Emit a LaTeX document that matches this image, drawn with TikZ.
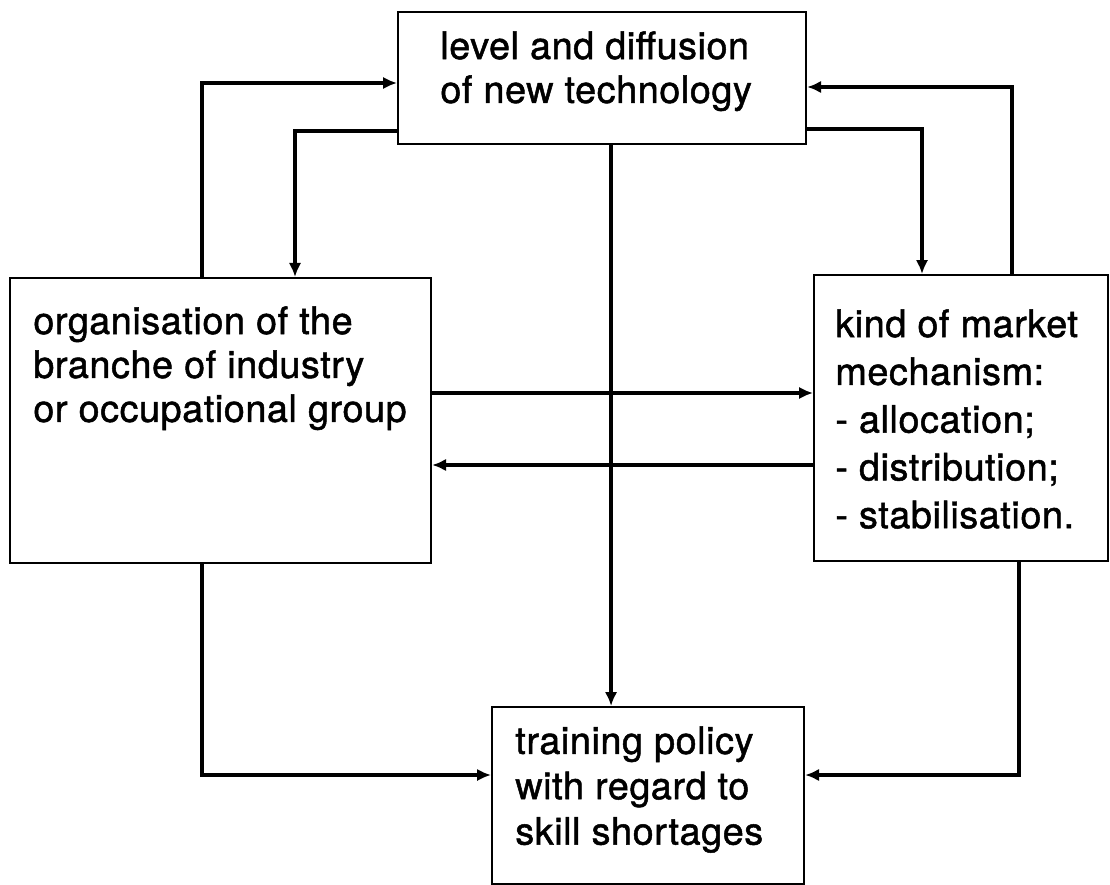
\documentclass[tikz,border=0pt]{standalone}
\usepackage{fontspec}
\setmainfont{TeX Gyre Heros}[FakeBold=1.3,LetterSpace=1.5]
\usetikzlibrary{arrows.meta}

\tikzset{
  frame/.style={draw, line width=1.2pt, inner sep=0pt, anchor=north west},
  words/.style={inner sep=0pt, anchor=north west, align=left,
    font=\fontsize{21.5}{25}\selectfont},
  link/.style={line width=2pt, ->},
}

\begin{document}
\begin{tikzpicture}[>={Latex[length=2.8mm,width=2.5mm]}]
\useasboundingbox (0,0) rectangle (22.2,-17.7);

% boxes
\node[frame, minimum width=8.16cm, minimum height=2.64cm] (tech) at (7.94,-0.22) {};
\node[words] (techtext) at ([shift={(0.86,-0.40)}]tech.north west) {level and diffusion\\of new technology};

\node[frame, minimum width=8.42cm, minimum height=5.70cm] (org) at (0.18,-5.54) {};
\node[words] (orgtext) at ([shift={(0.48,-0.58)}]org.north west) {organisation of the\\branche of industry\\or occupational group};

\node[frame, minimum width=5.88cm, minimum height=5.72cm] (market) at (16.26,-5.48) {};
\node[words, font=\fontsize{21.5}{27.2}\selectfont] (markettext) at ([shift={(0.44,-0.70)}]market.north west) {kind of market\\mechanism:\\- allocation;\\- distribution;\\- stabilisation.};

\node[frame, minimum width=6.24cm, minimum height=3.54cm] (train) at (9.82,-14.12) {};
\node[words, font=\fontsize{21.5}{25.8}\selectfont] (traintext) at ([shift={(0.48,-0.40)}]train.north west) {training policy\\with regard to\\skill shortages};

% top loops
\draw[link] ([xshift=3.86cm]org.north west) |- ([yshift=-1.44cm]tech.north west);
\draw[link] ([yshift=-2.40cm]tech.north west) -| ([xshift=5.72cm]org.north west);
\draw[link] ([xshift=3.98cm]market.north west) |- ([yshift=-1.52cm]tech.north east);
\draw[link] ([yshift=-2.36cm]tech.north east) -| ([xshift=2.18cm]market.north west);

% middle
\draw[link] ([xshift=0.18cm]tech.south) -- ([xshift=0.18cm]tech.south |- train.north);
\draw[link] ([yshift=-2.32cm]org.north east) -- ([yshift=-2.32cm]org.north east -| market.west);
\draw[link] ([yshift=-3.76cm]org.north east -| market.west) -- ([yshift=-3.76cm]org.north east);

% bottom
\draw[link] ([xshift=3.86cm]org.south west) |- ([yshift=-1.38cm]train.north west);
\draw[link] ([xshift=4.12cm]market.south west) |- ([yshift=-1.38cm]train.north east);

\end{tikzpicture}
\end{document}
